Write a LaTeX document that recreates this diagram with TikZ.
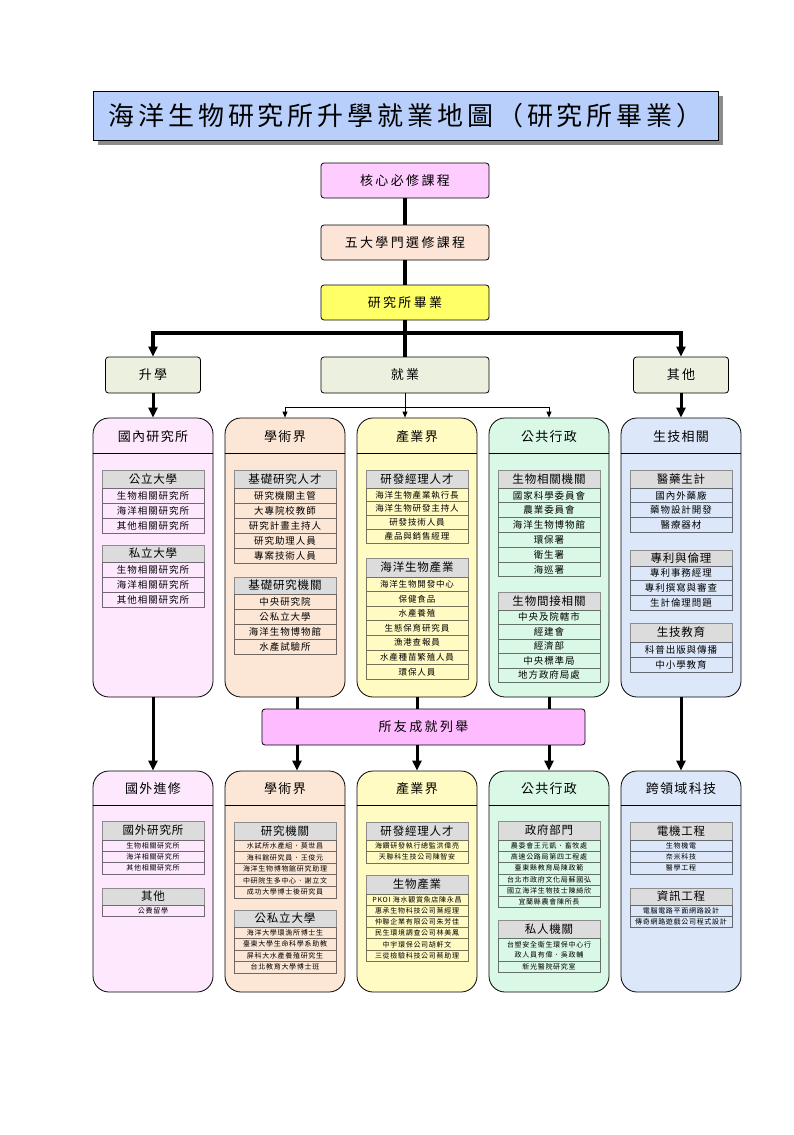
\documentclass[tikz,border=0pt]{standalone}
\usepackage{fontspec}
\usetikzlibrary{arrows.meta}
\newfontfamily\cjk{Noto Sans CJK TC}
\newfontfamily\cjktitle[LetterSpace=15]{Noto Sans CJK TC}
\newfontfamily\cjkbox[LetterSpace=18]{Noto Sans CJK TC}
\newfontfamily\cjkhead[LetterSpace=10]{Noto Sans CJK TC}
\newfontfamily\cjkth[LetterSpace=7]{Noto Sans CJK TC}
\newfontfamily\cjkrow[LetterSpace=10]{Noto Sans CJK TC}
\definecolor{titlefill}{HTML}{B7CFFA}
\definecolor{corefill}{HTML}{FFCCFF}
\definecolor{electfill}{HTML}{FCE4D6}
\definecolor{gradfill}{HTML}{FFFF66}
\definecolor{branchfill}{HTML}{EBF1DE}
\definecolor{cA}{HTML}{FDE8FD}
\definecolor{cB}{HTML}{FCE6D6}
\definecolor{cC}{HTML}{FFFBC2}
\definecolor{cD}{HTML}{DAF8E6}
\definecolor{cE}{HTML}{DCE8FA}
\definecolor{alumfill}{HTML}{FFBBFF}
\definecolor{theadgray}{HTML}{DCDCDC}
\newcommand\rfA{\fontsize{9.5}{11}\selectfont\cjkrow}
\newcommand\rfB{\fontsize{8.5}{10}\selectfont\cjkrow}
\newcommand\rfC{\fontsize{7}{8}\selectfont\cjkrow}
% #1 prefix, #2 x, #3 ytop, #4 header h, #5 row h, #6 fill, #7 font, #8 header, #9 rows
\newcommand\mytbl[9]{%
  \node[thead, minimum height=#4pt] (#1h) at (#2, {#3+#4/2}) {#8};
  \foreach \t [count=\i] in {#9} {
    \node[trow, fill=#6, draw=#6!45!black, font=#7, minimum height=#5pt] (#1r\i) at (#2, {#3+#4+(\i-0.5)*#5}) {\t};
  }%
}
\tikzset{
  flowbox/.style={draw=black, line width=0.8pt, rounded corners=3pt, minimum height=35pt, inner sep=0pt, font=\fontsize{13}{15}\selectfont\cjkbox},
  colbox/.style={draw=black, line width=0.8pt, rounded corners=16pt, minimum width=120pt, inner sep=0pt},
  colhead/.style={font=\fontsize{13}{15}\selectfont\cjkhead, inner sep=0pt},
  thead/.style={draw=black!45, line width=1pt, fill=theadgray, minimum width=102pt, inner sep=0pt, font=\fontsize{11.5}{13}\selectfont\cjkth},
  trow/.style={line width=0.8pt, minimum width=102pt, inner sep=0pt},
  mainline/.style={line width=3.5pt},
  mainarrow/.style={line width=3.5pt, -{Triangle[length=10pt,width=9pt]}},
  midline/.style={line width=3pt},
  midarrow/.style={line width=3pt, -{Triangle[length=10pt,width=9pt]}},
  thinline/.style={line width=0.8pt},
  thinarrow/.style={line width=0.8pt, -{Triangle[length=6pt,width=5pt]}},
}
\begin{document}
\begin{tikzpicture}[x=1pt,y=-1pt]
\useasboundingbox[fill=white] (0,0) rectangle (794,1135);
% title
\fill[black!45] (98,96) rectangle (723,145);
\node[draw=black, line width=0.8pt, fill=titlefill, minimum width=625pt, minimum height=49pt, inner sep=0pt,
  font=\fontsize{26}{30}\selectfont\cjktitle] (title) at (405.5,115.5) {海洋生物研究所升學就業地圖（研究所畢業）};
% flow
\node[flowbox, fill=corefill, minimum width=168pt] (core) at (405,180.5) {核心必修課程};
\node[flowbox, fill=electfill, minimum width=168pt] (elect) at (405,242.5) {五大學門選修課程};
\node[flowbox, fill=gradfill, minimum width=168pt] (grad) at (405,302.5) {研究所畢業};
\node[flowbox, fill=branchfill, minimum width=95pt, minimum height=36pt] (study) at (153,375) {升學};
\node[flowbox, fill=branchfill, minimum width=168pt, minimum height=36pt] (work) at (405,375) {就業};
\node[flowbox, fill=branchfill, minimum width=95pt, minimum height=36pt] (other) at (681,375) {其他};
\draw[mainline] (core) -- (elect);
\draw[mainline] (elect) -- (grad);
\draw[mainline] (grad) -- (work);
\coordinate (hL) at (153,333);
\coordinate (hR) at (681,333);
\draw[mainline] ([xshift=-1.75pt]hL) -- ([xshift=1.75pt]hR);
\draw[mainarrow] (hL) -- (study.north);
\draw[mainarrow] (hR) -- (other.north);
% upper columns
\node[colbox, fill=cA, minimum height=279pt] (up1) at (153,557.5) {};
\node[colbox, fill=cB, minimum height=279pt] (up2) at (285,557.5) {};
\node[colbox, fill=cC, minimum height=279pt] (up3) at (417,557.5) {};
\node[colbox, fill=cD, minimum height=279pt] (up4) at (549,557.5) {};
\node[colbox, fill=cE, minimum height=279pt] (up5) at (681,557.5) {};
\foreach \c in {up1,up2,up3,up4,up5} {
  \draw[line width=0.8pt] ([yshift=-36pt]\c.north west) -- ([yshift=-36pt]\c.north east);
}
\node[colhead] (up1t) at (153,437) {國內研究所};
\node[colhead] (up2t) at (285,437) {學術界};
\node[colhead] (up3t) at (417,437) {產業界};
\node[colhead] (up4t) at (549,437) {公共行政};
\node[colhead] (up5t) at (681,437) {生技相關};
% split from work
\coordinate (sp) at (405,407);
\coordinate (sL) at (285,407);
\coordinate (sR) at (549,407);
\draw[thinline] (work.south) -- (sp);
\draw[thinline] (sL) -- (sR);
\draw[thinarrow] (sL) -- (up2.north);
\draw[thinarrow] (sp) -- (sp |- up3.north);
\draw[thinarrow] (sR) -- (up4.north);
\draw[midarrow] (study.south) -- (up1.north);
\draw[midarrow] (other.south) -- (up5.north);
% upper tables
\mytbl{aA}{153}{470}{18}{15}{cA}{\rfA}{公立大學}{生物相關研究所,海洋相關研究所,其他相關研究所}
\mytbl{aB}{153}{545}{17}{15}{cA}{\rfA}{私立大學}{生物相關研究所,海洋相關研究所,其他相關研究所}
\mytbl{bA}{285}{470}{18}{15}{cB}{\rfA}{基礎研究人才}{研究機關主管,大專院校教師,研究計畫主持人,研究助理人員,專案技術人員}
\mytbl{bB}{285}{577}{17}{15}{cB}{\rfA}{基礎研究機關}{中央研究院,公私立大學,海洋生物博物館,水產試驗所}
\mytbl{cA}{417}{470}{18}{13.75}{cC}{\rfB}{研發經理人才}{海洋生物產業執行長,海洋生物研發主持人,研發技術人員,產品與銷售經理}
\mytbl{cB}{417}{558}{19}{14.6}{cC}{\rfB}{海洋生物產業}{海洋生物開發中心,保健食品,水產養殖,生態保育研究員,漁港查報員,水產種苗繁殖人員,環保人員}
\mytbl{dA}{549}{470}{18}{14.8}{cD}{\rfA}{生物相關機關}{國家科學委員會,農業委員會,海洋生物博物館,環保署,衛生署,海巡署}
\mytbl{dB}{549}{592}{18}{14.5}{cD}{\rfA}{生物間接相關}{中央及院轄市,經建會,經濟部,中央標準局,地方政府局處}
\mytbl{eA}{681}{470}{18}{14.7}{cE}{\rfA}{醫藥生計}{國內外藥廠,藥物設計開發,醫療器材}
\mytbl{eB}{681}{550}{16}{14.7}{cE}{\rfA}{專利與倫理}{專利事務經理,專利撰寫與審查,生計倫理問題}
\mytbl{eC}{681}{623}{19}{15}{cE}{\rfA}{生技教育}{科普出版與傳播,中小學教育}
% alumni box
\node[flowbox, fill=alumfill, minimum width=323pt, minimum height=36pt] (alumni) at (423.5,727) {所友成就列舉};
\coordinate (x2) at (297,0);
\coordinate (x3) at (417,0);
\coordinate (x4) at (549,0);
% lower columns
\node[colbox, fill=cA, minimum height=221pt] (dn1) at (153,881.5) {};
\node[colbox, fill=cB, minimum height=221pt] (dn2) at (285,881.5) {};
\node[colbox, fill=cC, minimum height=221pt] (dn3) at (417,881.5) {};
\node[colbox, fill=cD, minimum height=221pt] (dn4) at (549,881.5) {};
\node[colbox, fill=cE, minimum height=221pt] (dn5) at (681,881.5) {};
\foreach \c in {dn1,dn2,dn3,dn4,dn5} {
  \draw[line width=0.8pt] ([yshift=-35pt]\c.north west) -- ([yshift=-35pt]\c.north east);
}
\node[colhead] (dn1t) at (153,789) {國外進修};
\node[colhead] (dn2t) at (285,789) {學術界};
\node[colhead] (dn3t) at (417,789) {產業界};
\node[colhead] (dn4t) at (549,789) {公共行政};
\node[colhead] (dn5t) at (681,789) {跨領域科技};
\draw[midline] (up2.south -| x2) -- (alumni.north -| x2);
\draw[midline] (up3.south -| x3) -- (alumni.north -| x3);
\draw[midline] (up4.south -| x4) -- (alumni.north -| x4);
\draw[midarrow] (alumni.south -| x2) -- (dn2.north -| x2);
\draw[midarrow] (alumni.south -| x3) -- (dn3.north -| x3);
\draw[midarrow] (alumni.south -| x4) -- (dn4.north -| x4);
\draw[midarrow] (up1.south) -- (dn1.north);
\draw[midarrow] (up5.south) -- (dn5.north);
% lower tables
\mytbl{fA}{153}{821}{19}{11.3}{cA}{\rfC}{國外研究所}{生物相關研究所,海洋相關研究所,其他相關研究所}
\mytbl{fB}{153}{888}{17}{11}{cA}{\rfC}{其他}{公費留學}
\mytbl{gA}{285}{822}{18}{11.6}{cB}{\rfC}{研究機關}{水試所水產組．莫世昌,海科館研究員．王俊元,海洋生物博物館研究助理,中研院生多中心．謝立文,成功大學博士後研究員}
\mytbl{gB}{285}{910}{17}{11.5}{cB}{\rfC}{公私立大學}{海洋大學環漁所博士生,臺東大學生命科學系助教,屏科大水產養殖研究生,台北教育大學博士班}
\mytbl{hA}{417}{822}{18}{11.5}{cC}{\rfC}{研發經理人才}{海鑽研發執行總監洪偉亮,天聯科生技公司陳智安}
\mytbl{hB}{417}{875}{19}{11.2}{cC}{\rfC}{生物產業}{PKOI 海水觀賞魚店陳永昌,惠承生物科技公司葉經理,仲聯企業有限公司朱芳佳,民生環境調查公司林美鳳,中宇環保公司胡軒文,三從檢驗科技公司蔡助理}
\mytbl{iA}{549}{821}{19}{11.3}{cD}{\rfC}{政府部門}{農委會王元凱．畜牧處,高速公路局第四工程處,臺東縣教育局陳政範,台北市政府文化局蘇國弘,國立海洋生物技士陳綺欣,宜蘭縣農會陳所長}
\node[thead, minimum height=18pt] (iBh) at (549,929) {私人機關};
\node[trow, fill=cD, draw=cD!45!black, font=\fontsize{7}{10}\selectfont\cjkrow, minimum height=23pt, align=center] (iBr1) at (549,949.5) {台塑安全衛生環保中心行\\政人員有偉．吳政輔};
\node[trow, fill=cD, draw=cD!45!black, font=\rfC, minimum height=11pt] (iBr2) at (549,966.5) {新光醫院研究室};
\mytbl{jA}{681}{822}{18}{11.3}{cE}{\rfC}{電機工程}{生物機電,奈米科技,醫學工程}
\mytbl{jB}{681}{888}{17}{11}{cE}{\rfC}{資訊工程}{電腦電路平面網路設計,傳奇網路遊戲公司程式設計}
\end{tikzpicture}
\end{document}
